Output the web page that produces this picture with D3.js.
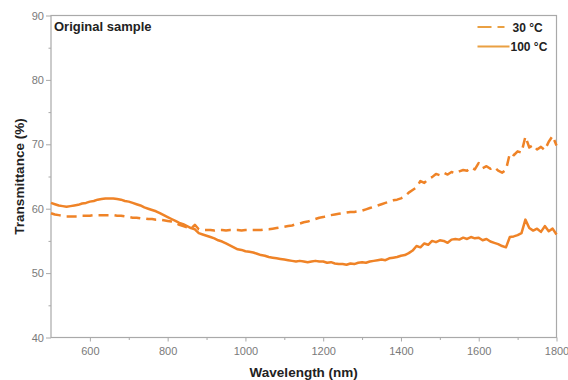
<!DOCTYPE html>
<html>
<head>
<meta charset="utf-8">
<script src="https://cdn.jsdelivr.net/npm/d3@7"></script>
<style>
  body { margin: 0; background: #fff; }
  svg { display: block; font-family: "Liberation Sans", Arial, sans-serif; }
</style>
</head>
<body>
<div id="chart"></div>
<script>
// sampling grid of the spectra (nm)
const wavelengths = d3.range(500, 1801, 10);

// 30 °C, every 10 nm
const t30 = [
  59.3,59.1,59.0,58.9,58.8,58.8,58.8,58.8,58.9,58.9,
  58.9,59.0,59.0,59.0,59.0,59.0,59.0,58.9,58.9,58.8,
  58.7,58.6,58.6,58.5,58.5,58.4,58.4,58.3,58.3,58.2,
  58.1,58.0,57.8,57.5,57.3,57.1,56.9,57.5,56.8,56.7,
  56.7,56.7,56.6,56.7,56.7,56.6,56.7,56.7,56.7,56.6,
  56.7,56.7,56.7,56.7,56.7,56.8,56.8,56.9,57.0,57.1,
  57.2,57.3,57.4,57.6,57.7,57.9,58.0,58.2,58.4,58.6,
  58.7,58.9,59.0,59.1,59.2,59.3,59.4,59.5,59.5,59.6,
  59.7,59.9,60.1,60.3,60.5,60.7,60.9,61.1,61.3,61.4,
  61.6,61.9,62.5,62.9,63.3,64.3,64.0,64.6,64.9,65.4,
  65.2,65.6,65.3,65.7,65.5,65.8,66.0,65.9,66.4,66.1,
  67.1,66.3,66.6,66.2,66.5,65.9,65.6,66.0,68.6,68.3,
  68.9,68.7,71.2,69.5,69.9,69.2,69.6,69.1,70.4,71.3,
  69.8
];

// 100 °C
const t100 = [
  60.9,60.7,60.5,60.4,60.3,60.4,60.5,60.6,60.8,60.9,
  61.1,61.2,61.4,61.5,61.6,61.6,61.6,61.5,61.4,61.2,
  61.1,60.9,60.7,60.5,60.2,60.0,59.8,59.6,59.3,59.0,
  58.7,58.4,58.1,57.8,57.6,57.3,57.0,56.8,56.2,56.0,
  55.8,55.6,55.4,55.1,54.9,54.6,54.3,54.0,53.7,53.6,
  53.4,53.3,53.2,53.0,52.8,52.7,52.5,52.4,52.3,52.2,
  52.1,52.0,51.9,51.8,51.9,51.8,51.7,51.8,51.9,51.8,
  51.8,51.6,51.7,51.5,51.4,51.4,51.3,51.5,51.4,51.6,
  51.7,51.6,51.8,51.9,52.0,52.1,52.0,52.3,52.4,52.5,
  52.7,52.8,53.1,53.5,54.2,54.0,54.6,54.4,55.0,54.8,
  55.1,55.0,54.7,55.2,55.3,55.2,55.5,55.3,55.6,55.4,
  55.5,55.1,55.3,54.9,54.7,54.5,54.2,54.0,55.6,55.7,
  55.9,56.2,58.3,57.0,56.6,56.9,56.4,57.3,56.5,56.9,
  56.0
];

const xTicks = [600, 800, 1000, 1200, 1400, 1600, 1800];
const xMinor = [700, 900, 1100, 1300, 1500, 1700];
const yTicks = [40, 50, 60, 70, 80, 90];
const yMinor = [45, 55, 65, 75, 85];

const seriesList = [
  { label: "30 °C", values: t30, dash: "10,6" },
  { label: "100 °C", values: t100, dash: null }
];

const W = 568, H = 380;
const margin = { top: 15.5, right: 11.5, bottom: 42.5, left: 51 };
const width = W - margin.left - margin.right;
const height = H - margin.top - margin.bottom;
const lineColor = "#ef8327";
const axisColor = "#a9a9a9";

const svg = d3.select("#chart").append("svg")
  .attr("width", W)
  .attr("height", H);

const g = svg.append("g")
  .attr("transform", `translate(${margin.left},${margin.top})`);

const x = d3.scaleLinear().domain([500, 1800]).range([0, width]);
const y = d3.scaleLinear().domain([40, 90]).range([height, 0]);

// frame
g.append("rect")
  .attr("width", width)
  .attr("height", height)
  .attr("fill", "none")
  .attr("stroke", axisColor)
  .attr("stroke-width", 1.2);

function styleAxis(sel) {
  sel.select(".domain").remove();
  sel.selectAll(".tick line").attr("stroke", axisColor).attr("stroke-width", 1);
  sel.selectAll(".tick text")
    .attr("fill", "#7a7a7a")
    .style("font-size", "11px");
}

g.append("g")
  .attr("transform", `translate(0,${height})`)
  .call(d3.axisBottom(x).tickValues(xTicks).tickSize(4).tickPadding(6).tickFormat(d3.format("d")))
  .call(styleAxis);

g.append("g")
  .attr("transform", `translate(0,${height})`)
  .call(d3.axisBottom(x).tickValues(xMinor).tickSize(2.5).tickFormat(""))
  .call(styleAxis);

g.append("g")
  .call(d3.axisLeft(y).tickValues(yTicks).tickSize(5).tickPadding(2))
  .call(styleAxis);

g.append("g")
  .call(d3.axisLeft(y).tickValues(yMinor).tickSize(2.5).tickFormat(""))
  .call(styleAxis);

// spectra
const line = d3.line()
  .x((d, i) => x(wavelengths[i]))
  .y(d => y(d));

seriesList.forEach(s => {
  g.append("path")
    .datum(s.values)
    .attr("d", line)
    .attr("fill", "none")
    .attr("stroke", lineColor)
    .attr("stroke-width", 2.5)
    .attr("stroke-linejoin", "round")
    .attr("stroke-dasharray", s.dash);
});

// panel title
g.append("text")
  .attr("x", 3)
  .attr("y", 15.5)
  .attr("fill", "#222")
  .style("font-size", "13px")
  .style("font-weight", "bold")
  .text("Original sample");

// legend
const legend = g.append("g")
  .attr("transform", `translate(${width - 79},11.5)`);

seriesList.forEach((s, i) => {
  legend.append("line")
    .attr("x1", 0).attr("x2", s.dash ? 27 : 32)
    .attr("y1", i * 19.5).attr("y2", i * 19.5)
    .attr("stroke", "#eaa042")
    .attr("stroke-width", 2)
    .attr("stroke-dasharray", s.dash ? "14,6" : null);
  legend.append("text")
    .attr("x", i === 0 ? 35 : 33)
    .attr("y", i * 19.5 + 4.5)
    .attr("fill", "#222")
    .style("font-size", "12px")
    .style("font-weight", "bold")
    .text(s.label);
});

// axis titles
svg.append("text")
  .attr("x", margin.left + width / 2)
  .attr("y", 377)
  .attr("text-anchor", "middle")
  .attr("fill", "#222")
  .style("font-size", "13.5px")
  .style("font-weight", "bold")
  .text("Wavelength (nm)");

svg.append("text")
  .attr("transform", `translate(24,${margin.top + height / 2}) rotate(-90)`)
  .attr("text-anchor", "middle")
  .attr("fill", "#222")
  .style("font-size", "13.5px")
  .style("font-weight", "bold")
  .text("Transmittance (%)");
</script>
</body>
</html>
